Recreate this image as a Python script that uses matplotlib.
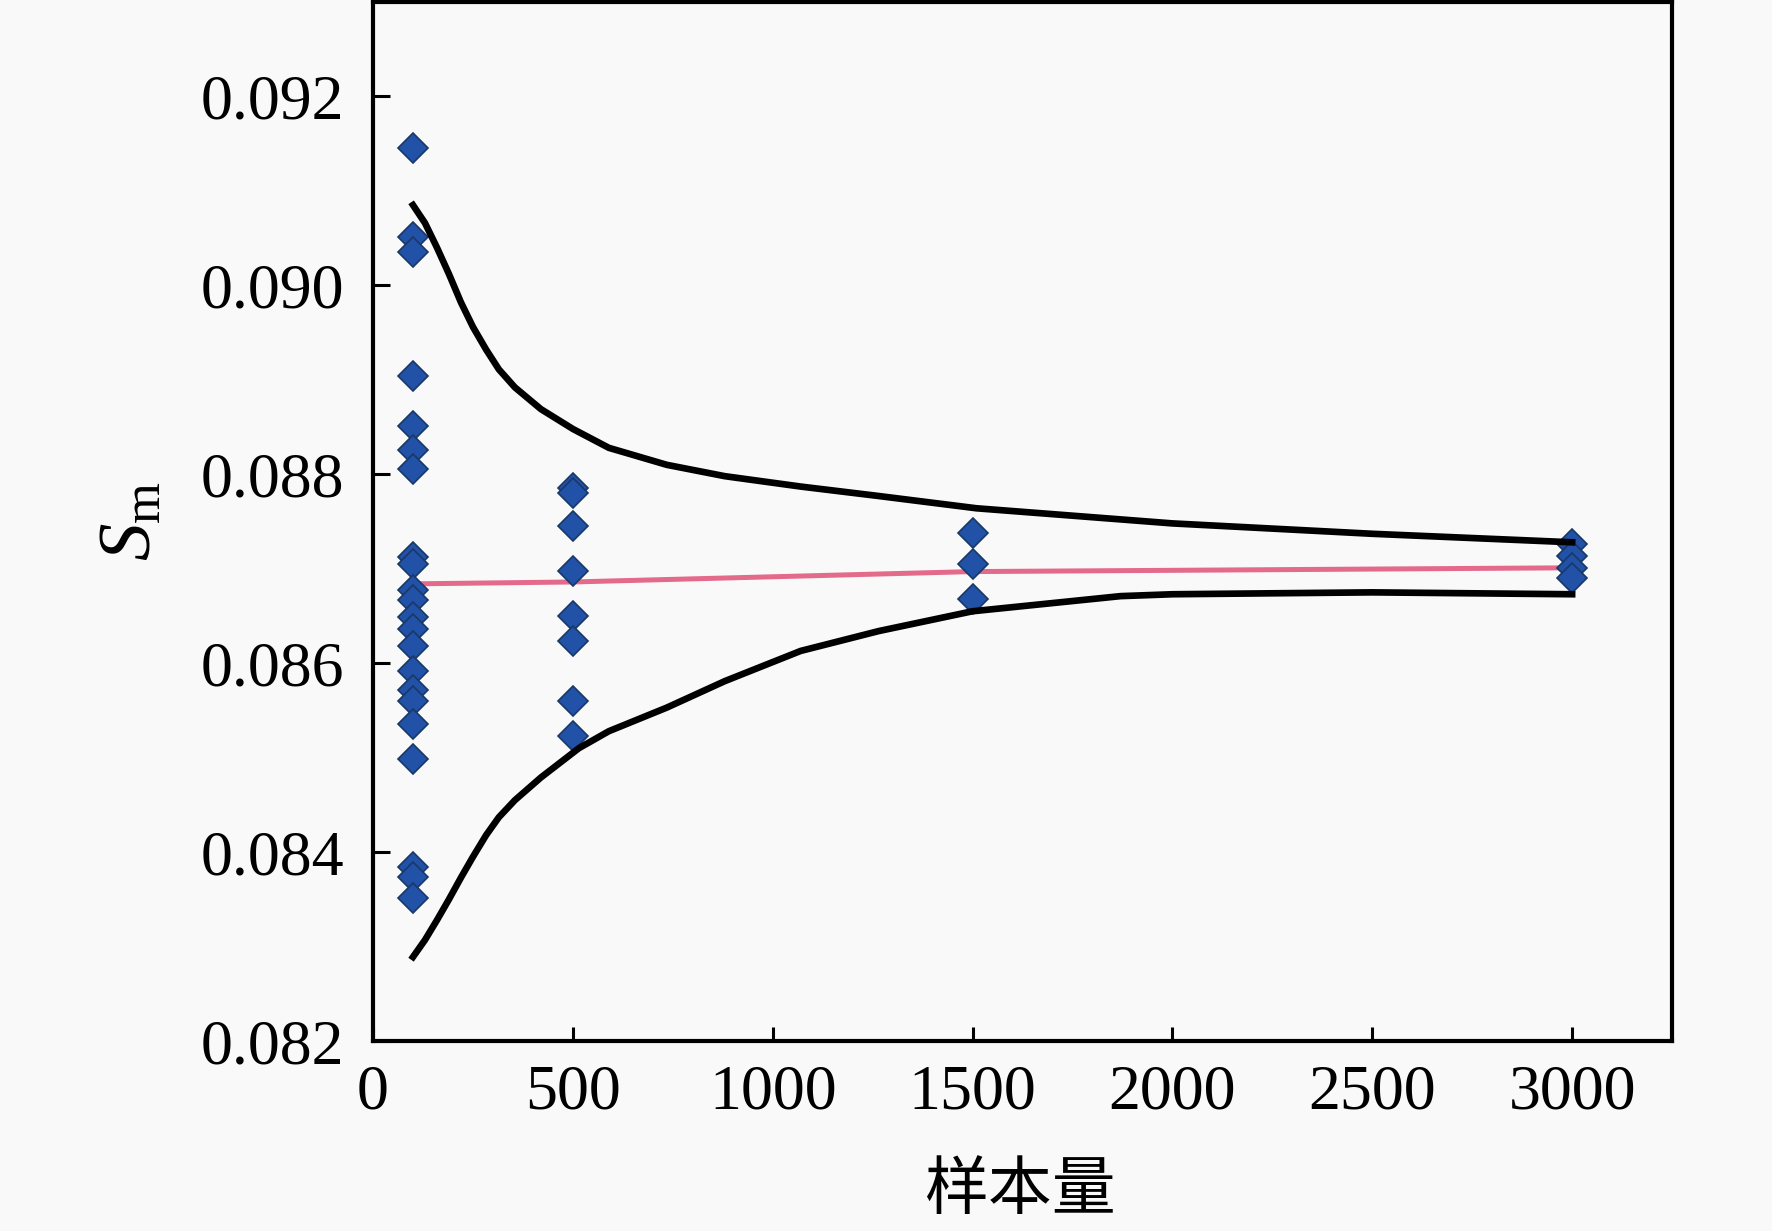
import matplotlib
matplotlib.use("Agg")
import matplotlib.pyplot as plt

# ---- data ----
n_100 = [0.09145, 0.09051, 0.09035, 0.08904, 0.08851, 0.08826, 0.08806,
         0.08712, 0.08705, 0.08678, 0.08667, 0.08649, 0.08636, 0.08618,
         0.08592, 0.08572, 0.08560, 0.08536, 0.08499, 0.08384, 0.08374, 0.08351]
n_500 = [0.08785, 0.08780, 0.08745, 0.08698, 0.08650, 0.08623, 0.08560, 0.08523]
n_1500 = [0.08738, 0.08705, 0.08668]
n_3000 = [0.08726, 0.08713, 0.08701, 0.08690]
sample_sizes = [100, 500, 1500, 3000]

mean_x = [100, 500, 1500, 3000]
mean_y = [0.08684, 0.08686, 0.08697, 0.08701]

upper_x = [100, 130, 160, 190, 220, 250, 283, 315, 355, 420, 500, 590, 735,
           880, 1070, 1265, 1510, 2000, 2500, 3000]
upper_y = [0.09085, 0.09066, 0.09040, 0.09012, 0.08982, 0.08956, 0.08932,
           0.08911, 0.08892, 0.08869, 0.08848, 0.08828, 0.08810, 0.08798,
           0.08787, 0.08777, 0.08764, 0.08748, 0.08737, 0.08728]

lower_x = [100, 130, 160, 190, 220, 250, 283, 315, 355, 420, 515, 590, 735,
           880, 1070, 1265, 1500, 1870, 2000, 2500, 3000]
lower_y = [0.08289, 0.08307, 0.08328, 0.08350, 0.08373, 0.08395, 0.08418,
           0.08437, 0.08455, 0.08479, 0.08510, 0.08528, 0.08553, 0.08581,
           0.08613, 0.08634, 0.08655, 0.08671, 0.08673, 0.08675, 0.08673]

x_ticks = [0, 500, 1000, 1500, 2000, 2500, 3000]
x_tick_labels = ["0", "500", "1000", "1500", "2000", "2500", "3000"]
y_ticks = [0.082, 0.084, 0.086, 0.088, 0.090, 0.092]
y_tick_labels = ["0.082", "0.084", "0.086", "0.088", "0.090", "0.092"]

x_label = "样本量"
y_label = r"$S_{\mathrm{m}}$"

# ---- style ----
plt.rcParams["font.family"] = ["Liberation Serif", "Noto Sans CJK SC", "DejaVu Sans"]
plt.rcParams["mathtext.fontset"] = "custom"
plt.rcParams["mathtext.rm"] = "Liberation Serif"
plt.rcParams["mathtext.it"] = "Liberation Serif:italic"
plt.rcParams["mathtext.bf"] = "Liberation Serif:bold"

bg = "#f9f9f9"
fig = plt.figure(figsize=(17.72, 12.31), dpi=100, facecolor=bg)
ax = fig.add_axes([0.2105, 0.1543, 0.7331, 0.8441])
ax.set_facecolor(bg)

marker_kw = dict(linestyle="none", marker="D", markersize=15,
                 markerfacecolor="#2152A8", markeredgecolor="#1A3866",
                 markeredgewidth=1.2, zorder=3)
for xs, vals in zip(sample_sizes, [n_100, n_500, n_1500, n_3000]):
    ax.plot([xs] * len(vals), vals, **marker_kw)

ax.plot(mean_x, mean_y, color="#E46A8C", linewidth=3.6, zorder=2,
        solid_capstyle="butt")
ax.plot(upper_x, upper_y, color="black", linewidth=4.8, zorder=4,
        solid_joinstyle="round")
ax.plot(lower_x, lower_y, color="black", linewidth=4.8, zorder=4,
        solid_joinstyle="round")

ax.set_xlim(0, 3250)
ax.set_ylim(0.082, 0.093)

ax.set_xticks(x_ticks)
ax.set_xticklabels(x_tick_labels)
ax.set_yticks(y_ticks)
ax.set_yticklabels(y_tick_labels)

for s in ax.spines.values():
    s.set_linewidth(3.0)

ax.tick_params(axis="x", direction="in", length=10, width=2.2, pad=17,
               labelsize=46, top=False)
ax.tick_params(axis="y", direction="in", length=12, width=2.2, pad=21,
               labelsize=46, right=False)

ax.set_xlabel(x_label, fontsize=46, family=["Noto Sans CJK SC", "DejaVu Sans"])
ax.xaxis.set_label_coords(0.498, -0.112)
ax.set_ylabel(y_label, fontsize=54, va="center")
ax.yaxis.set_label_coords(-0.185, 0.5)

fig.savefig("out.png", dpi=100, facecolor=bg)
